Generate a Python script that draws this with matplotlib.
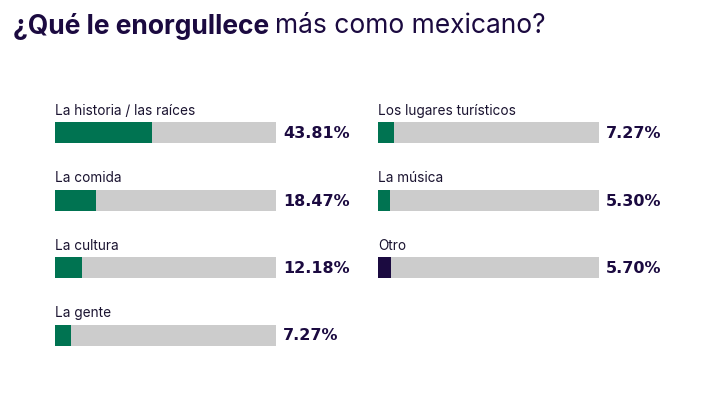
import matplotlib.pyplot as plt

# data
left_labels = ['La historia / las raíces', 'La comida', 'La cultura', 'La gente']
left_values = [43.81, 18.47, 12.18, 7.27]
right_labels = ['Los lugares turísticos', 'La música', 'Otro']
right_values = [7.27, 5.30, 5.70]
right_colors = ['#007351', '#007351', '#1b0a40']

GREEN = '#007351'
GRAY = '#cccccc'
NAVY = '#1b0a40'

fig = plt.figure(figsize=(7.18, 3.94), dpi=100)
ax = fig.add_axes([0, 0, 1, 1])
ax.set_xlim(0, 718)
ax.set_ylim(394, 0)
ax.axis('off')

bar_w = 221
bar_h = 21
row_y = [132.5, 200, 267.5, 335]


def draw_col(x0, labels, values, colors):
    for i, (lab, val, c) in enumerate(zip(labels, values, colors)):
        y = row_y[i]
        ax.barh(y, bar_w, left=x0, height=bar_h, color=GRAY)
        ax.barh(y, bar_w * val / 100, left=x0, height=bar_h, color=c)
        ax.text(x0, y - 22, lab, fontsize=9.8, family='Inter', color='#1a1330',
                va='center', ha='left')
        ax.text(x0 + bar_w + 7, y + 1, f'{val:.2f}%', fontsize=11.5,
                family='DejaVu Sans', fontweight='bold', color=NAVY,
                va='center', ha='left')


draw_col(55, left_labels, left_values, [GREEN] * len(left_values))
draw_col(378, right_labels, right_values, right_colors)

# title: bold part + regular part
t1 = ax.text(13, 26, '¿Qué le enorgullece', fontsize=19, family='Inter',
             fontweight='bold', color=NAVY, va='center', ha='left')
fig.canvas.draw()
bb = t1.get_window_extent()
x_end = ax.transData.inverted().transform((bb.x1, bb.y1))[0]
ax.text(x_end + 6, 26, 'más como mexicano?', fontsize=19, family='Inter',
        color=NAVY, va='center', ha='left')
fig.savefig('out.png', dpi=100)
